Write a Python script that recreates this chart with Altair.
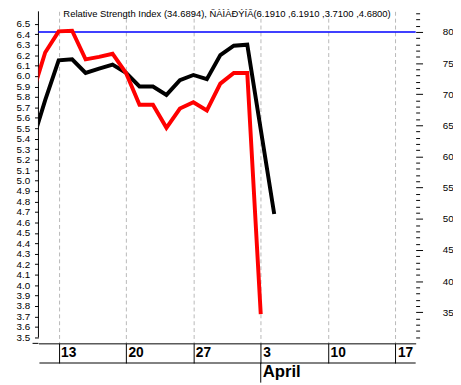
import altair as alt
import pandas as pd

# ---- data ----
trading_days = ["2006-03-09", "2006-03-10", "2006-03-13", "2006-03-14", "2006-03-15",
                "2006-03-16", "2006-03-17", "2006-03-20", "2006-03-21", "2006-03-22",
                "2006-03-23", "2006-03-24", "2006-03-27", "2006-03-28", "2006-03-29",
                "2006-03-30", "2006-03-31", "2006-04-03", "2006-04-04"]
price_close = [5.35, 5.77, 6.15, 6.16, 6.03, 6.07, 6.11, 6.03, 5.90, 5.90,
               5.82, 5.96, 6.01, 5.97, 6.20, 6.29, 6.30, 5.49, 4.68]
rsi_values = [69.7, 76.7, 80.1, 80.2, 75.6, 76.0, 76.5, 73.4, 68.3, 68.3,
              64.6, 67.7, 68.7, 67.4, 71.7, 73.4, 73.4, 34.69]
week_ticks = [2, 7, 12, 17, 22, 27]
week_labels = ["13", "20", "27", "3", "10", "17"]
month_starts = [17]
month_names = ["April"]
price_ticks = [3.5, 3.6, 3.7, 3.8, 3.9, 4.0, 4.1, 4.2, 4.3, 4.4, 4.5, 4.6, 4.7, 4.8,
               4.9, 5.0, 5.1, 5.2, 5.3, 5.4, 5.5, 5.6, 5.7, 5.8, 5.9, 6.0, 6.1, 6.2,
               6.3, 6.4, 6.5]
price_axis_end = [3.5]
rsi_ticks = list(range(31, 85))
rsi_level = [80]
title_text = ["Relative Strength Index (34.6894), ÑÀÌÀÐÝÍÃ(6.1910 ,6.1910 ,3.7100 ,4.6800)"]

W, H = 384, 338
FONT = "Liberation Sans"

price_df = pd.DataFrame({"day": list(range(len(price_close))), "price": price_close,
                         "date": trading_days})
rsi_df = pd.DataFrame({"day": list(range(len(rsi_values))), "rsi": rsi_values,
                       "date": trading_days[:len(rsi_values)]})
level_df = pd.DataFrame({"rsi": rsi_level})
axis_end_df = pd.DataFrame({"price": price_axis_end})
month_df = pd.DataFrame({"day": month_starts, "name": month_names})
title_df = pd.DataFrame({"t": title_text})
one_df = pd.DataFrame({"k": [0]})

label_expr = ("[" + ",".join("'%s'" % s for s in week_labels) + "][indexof(["
              + ",".join(str(v) for v in week_ticks) + "], datum.value)]")

x_def = alt.X(
    "day:Q",
    scale=alt.Scale(domain=[0.5, 28.5], nice=False, zero=False),
    axis=alt.Axis(
        values=week_ticks, labelExpr=label_expr, title=None,
        tickSize=20, tickColor="black", tickWidth=1,
        domainColor="black", domainWidth=1,
        labelAlign="left", labelBaseline="alphabetic", labelPadding=-7, labelOffset=2,
        labelFont=FONT, labelFontSize=14, labelFontWeight="bold", labelColor="black",
        labelFlush=False, labelOverlap=False, labelBound=False,
        grid=True, gridColor="#b8b8b8", gridDash=[4, 3], gridWidth=1,
    ),
)

price_y = alt.Y(
    "price:Q",
    scale=alt.Scale(domain=[3.443, 6.619], nice=False, zero=False),
    axis=alt.Axis(
        orient="left", values=price_ticks, format=".1f", title=None, domain=False,
        tickSize=4, tickColor="black",
        labelPadding=5, labelFont=FONT, labelFontSize=10, labelColor="black",
        labelFlush=False, labelOverlap=False, grid=False,
    ),
)

rsi_y = alt.Y(
    "rsi:Q",
    scale=alt.Scale(domain=[30.0, 83.31], nice=False, zero=False),
    axis=alt.Axis(
        orient="right", values=rsi_ticks, title=None, domain=False,
        tickSize={"condition": {"test": "datum.value % 5 === 0", "value": 7}, "value": 4},
        tickColor="black",
        labelExpr="datum.value % 5 === 0 ? datum.label : ''",
        labelPadding=20, labelFont=FONT, labelFontSize=10, labelColor="black",
        labelFlush=False, labelOverlap=False, grid=False,
    ),
)

left_axis_line = alt.Chart(axis_end_df).mark_rule(color="black", strokeWidth=1).encode(
    x=alt.value(0), y=price_y, y2=alt.value(0))
price_line = alt.Chart(price_df).mark_line(color="black", strokeWidth=4, clip=True).encode(
    x=x_def, y=price_y)
price_group = alt.layer(left_axis_line, price_line)

level_rule = alt.Chart(level_df).mark_rule(color="#0000ff", strokeWidth=1.5).encode(y=rsi_y)
rsi_line = alt.Chart(rsi_df).mark_line(color="#ff0000", strokeWidth=4, clip=True).encode(
    x=x_def, y=rsi_y)
rsi_group = alt.layer(level_rule, rsi_line)

stub_line = alt.Chart(one_df).mark_rule(color="black").encode(
    x=alt.value(-6), x2=alt.value(0), y=alt.value(H))
row_line = alt.Chart(one_df).mark_rule(color="black").encode(
    x=alt.value(1), x2=alt.value(W), y=alt.value(H + 20))
month_rule = alt.Chart(month_df).mark_rule(color="black").encode(
    x=x_def, y=alt.value(H + 20), y2=alt.value(H + 40))
month_text = alt.Chart(month_df).mark_text(
    align="left", baseline="alphabetic", dx=2, font=FONT, fontSize=17, fontWeight="bold",
    color="black").encode(x=x_def, y=alt.value(H + 34), text="name:N")
title_mark = alt.Chart(title_df).mark_text(
    align="center", baseline="middle", font=FONT, fontSize=9.6, color="black").encode(
    x=alt.value(W / 2), y=alt.value(3), text="t:N")

chart = alt.layer(
    price_group, rsi_group, stub_line, row_line, month_rule, month_text, title_mark
).resolve_scale(y="independent").properties(
    width=W, height=H,
    autosize=alt.AutoSizeParams(type="none"),
    padding={"left": 31, "top": 0, "right": 38, "bottom": 39},
    background="white",
).configure_view(stroke=None)

chart.save("out.html", embed_options={"renderer": "svg", "actions": False})
